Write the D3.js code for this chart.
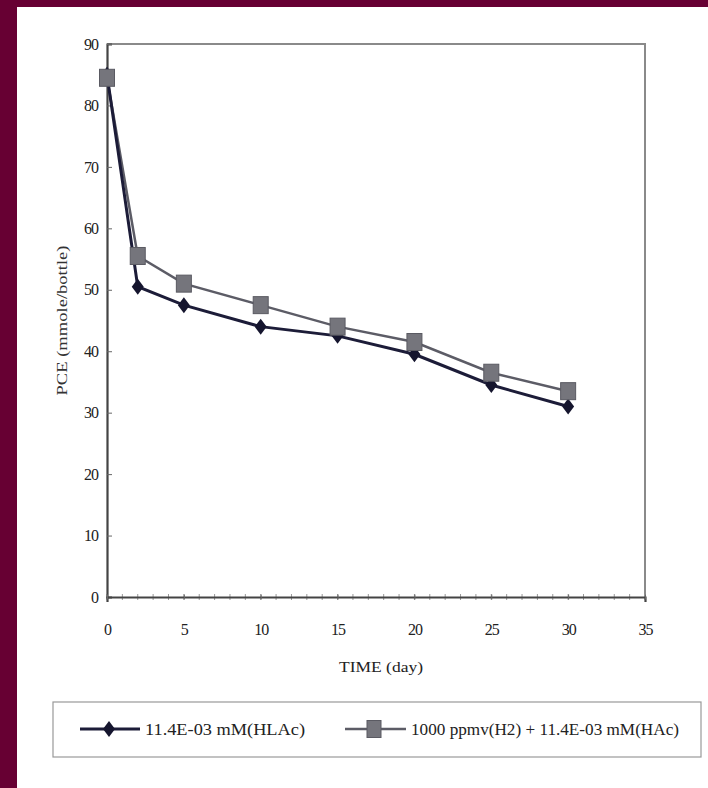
<!DOCTYPE html>
<html>
<head>
<meta charset="utf-8">
<script src="https://cdn.jsdelivr.net/npm/d3@7"></script>
<style>
  body { margin: 0; background: #fff; }
  svg { display: block; }
  .tick text { font-family: "Liberation Serif", serif; fill: #222; }
</style>
</head>
<body>
<div id="chart"></div>
<script>
var svgWidth = 708;
var svgHeight = 788;

var margin = { top: 44, right: 63, bottom: 191, left: 107 };
var width = svgWidth - margin.left - margin.right;
var height = svgHeight - margin.top - margin.bottom;

// data
var days = [0, 2, 5, 10, 15, 20, 25, 30];
var hlac = [85, 50.5, 47.5, 44, 42.5, 39.5, 34.5, 31];
var h2hlac = [84.5, 55.5, 51, 47.5, 44, 41.5, 36.5, 33.5];
var xTicks = [0, 5, 10, 15, 20, 25, 30, 35];
var yTicks = [0, 10, 20, 30, 40, 50, 60, 70, 80, 90];
var seriesNames = ["11.4E-03 mM(HLAc)", "1000 ppmv(H2) + 11.4E-03 mM(HAc)"];

var svg = d3.select("#chart")
  .append("svg")
  .attr("width", svgWidth)
  .attr("height", svgHeight);

// maroon frame at left and top
svg.append("rect").attr("x", 0).attr("y", 0).attr("width", svgWidth).attr("height", 7).attr("fill", "#670033");
svg.append("rect").attr("x", 0).attr("y", 0).attr("width", 17).attr("height", svgHeight).attr("fill", "#670033");

var chartGroup = svg.append("g")
  .attr("transform", `translate(${margin.left}, ${margin.top})`);

var xScale = d3.scaleLinear().domain([0, 35]).range([0, width]);
var yScale = d3.scaleLinear().domain([0, 90]).range([height, 0]);

// top / right frame
chartGroup.append("path")
  .attr("d", `M0,0H${width}V${height}`)
  .attr("fill", "none")
  .attr("stroke", "#8a8a8a")
  .attr("stroke-width", 2);

// minor ticks on the x axis
chartGroup.selectAll(".minor")
  .data(d3.range(0, 36, 1))
  .enter()
  .append("line")
  .attr("x1", d => xScale(d))
  .attr("x2", d => xScale(d))
  .attr("y1", height - 3)
  .attr("y2", height + 3)
  .attr("stroke", "#999")
  .attr("stroke-width", 1);

var leftAxis = d3.axisLeft(yScale).tickValues(yTicks).tickSize(-5).tickPadding(9);
var bottomAxis = d3.axisBottom(xScale).tickValues(xTicks).tickSize(5).tickPadding(22);

var yAxis = chartGroup.append("g").call(leftAxis);
var xAxis = chartGroup.append("g")
  .attr("transform", `translate(0, ${height})`)
  .call(bottomAxis);

[xAxis, yAxis].forEach(function(ax) {
  ax.select(".domain").attr("stroke", "#444").attr("stroke-width", 2.2);
  ax.selectAll(".tick line").attr("stroke", "#666");
  ax.selectAll(".tick text").attr("font-size", 16).attr("letter-spacing", "-1px");
});
xAxis.selectAll(".tick line").attr("transform", "translate(0,-2.5)");

// axis titles
chartGroup.append("text")
  .attr("x", 274)
  .attr("y", height + 75)
  .attr("text-anchor", "middle")
  .attr("font-family", "Liberation Serif, serif")
  .attr("font-size", 15)
  .attr("textLength", 84)
  .attr("lengthAdjust", "spacingAndGlyphs")
  .attr("fill", "#222")
  .text("TIME (day)");

chartGroup.append("text")
  .attr("transform", "rotate(-90)")
  .attr("x", -(height / 2))
  .attr("y", -40)
  .attr("text-anchor", "middle")
  .attr("font-family", "Liberation Serif, serif")
  .attr("font-size", 14)
  .attr("textLength", 150)
  .attr("lengthAdjust", "spacingAndGlyphs")
  .attr("fill", "#333")
  .text("PCE (mmole/bottle)");

// lines
var lineGen = d3.line()
  .x((d, i) => xScale(days[i]))
  .y(d => yScale(d));

chartGroup.append("path")
  .datum(h2hlac)
  .attr("d", lineGen)
  .attr("fill", "none")
  .attr("stroke", "#5c5c66")
  .attr("stroke-width", 2.5);

chartGroup.append("path")
  .datum(hlac)
  .attr("d", lineGen)
  .attr("fill", "none")
  .attr("stroke", "#1c1c38")
  .attr("stroke-width", 3);

var diamond = "M0,-8L6,0L0,8L-6,0Z";

chartGroup.selectAll(".dia")
  .data(hlac)
  .enter()
  .append("path")
  .attr("d", diamond)
  .attr("transform", (d, i) => `translate(${xScale(days[i])}, ${yScale(d)})`)
  .attr("fill", "#15152e");

chartGroup.selectAll(".sq")
  .data(h2hlac)
  .enter()
  .append("rect")
  .attr("x", (d, i) => xScale(days[i]) - 7.5)
  .attr("y", d => yScale(d) - 8.5)
  .attr("width", 15)
  .attr("height", 17)
  .attr("fill", "#75757c")
  .attr("stroke", "#5a5a62")
  .attr("stroke-width", 1);

// legend
var legend = svg.append("g");
legend.append("rect")
  .attr("x", 53).attr("y", 702)
  .attr("width", 648).attr("height", 55)
  .attr("fill", "#fff")
  .attr("stroke", "#999")
  .attr("stroke-width", 1.2);

var ly = 729;
legend.append("line").attr("x1", 80).attr("x2", 140).attr("y1", ly).attr("y2", ly)
  .attr("stroke", "#1c1c38").attr("stroke-width", 3);
legend.append("path").attr("d", diamond)
  .attr("transform", `translate(109, ${ly})`).attr("fill", "#15152e");
legend.append("text")
  .attr("x", 145).attr("y", ly + 6)
  .attr("font-family", "Liberation Serif, serif")
  .attr("font-size", 17)
  .attr("textLength", 160)
  .attr("lengthAdjust", "spacingAndGlyphs")
  .attr("fill", "#222")
  .text(seriesNames[0]);

legend.append("line").attr("x1", 345).attr("x2", 406).attr("y1", ly).attr("y2", ly)
  .attr("stroke", "#5c5c66").attr("stroke-width", 2.5);
legend.append("rect")
  .attr("x", 367).attr("y", ly - 8.5).attr("width", 14).attr("height", 17)
  .attr("fill", "#75757c").attr("stroke", "#5a5a62");
legend.append("text")
  .attr("x", 411).attr("y", ly + 6)
  .attr("font-family", "Liberation Serif, serif")
  .attr("font-size", 17)
  .attr("textLength", 268)
  .attr("lengthAdjust", "spacingAndGlyphs")
  .attr("fill", "#222")
  .text(seriesNames[1]);
</script>
</body>
</html>
